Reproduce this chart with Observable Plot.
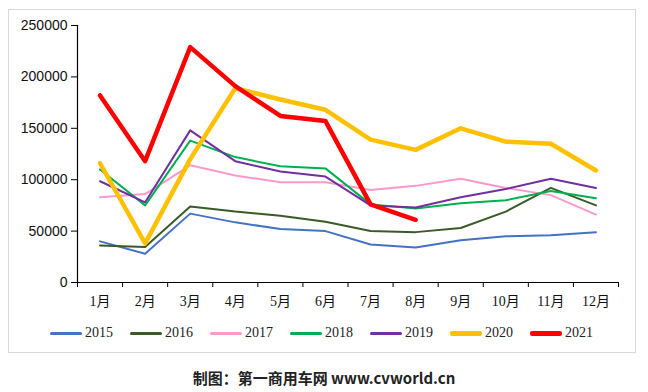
<!DOCTYPE html>
<html><head><meta charset="utf-8">
<script src="https://cdn.jsdelivr.net/npm/d3@7"></script>
<script src="https://cdn.jsdelivr.net/npm/@observablehq/plot@0.6"></script>
<style>
html,body{margin:0;padding:0;background:#fff;}
#wrap{position:relative;width:648px;height:392px;overflow:hidden;}
#frame{position:absolute;left:8px;top:9px;width:628px;height:344px;border:1px solid #d9d9d9;box-sizing:border-box;}
#chart{position:absolute;left:0;top:0;}
#legend{position:absolute;left:0;top:323px;width:648px;height:20px;}
.item{position:absolute;top:0;display:flex;align-items:center;height:20px;font-family:"Liberation Serif","Noto Sans CJK SC",serif;font-size:14px;color:#222;}
.sw{display:inline-block;width:32px;margin-right:3px;border-radius:2px;}
#caption{position:absolute;left:0;top:367px;width:648px;text-align:center;font-family:"Noto Sans CJK SC","Liberation Sans",sans-serif;font-weight:bold;font-size:15px;color:#222;}
</style></head>
<body><div id="wrap"><div id="frame"></div><div id="chart"></div><div id="legend"></div><div id="caption">制图：第一商用车网 www.cvworld.cn</div></div>
<script>
const months = ["1月","2月","3月","4月","5月","6月","7月","8月","9月","10月","11月","12月"];
const years = ["2015","2016","2017","2018","2019","2020","2021"];
const colors = ["#4472C4","#3A5A27","#FF99CC","#00B050","#7030A0","#FFC000","#FF0000"];
const widths = [2,2,2,2,2,4.5,4.5];
const yTicks = [0,50000,100000,150000,200000,250000];
const s2015 = [40000,28000,67000,58500,52000,50000,37000,34000,41000,45000,46000,49000];
const s2016 = [36000,34500,74000,69000,65000,59000,50000,49000,53000,69000,92000,75000];
const s2017 = [83000,86000,114000,104000,97500,97500,90000,94000,101000,92000,85000,66000];
const s2018 = [110000,75000,138000,122000,113000,111000,76000,72000,77000,80000,89000,82000];
const s2019 = [98500,78000,148000,118000,108000,103000,75000,73000,83000,91000,101000,92000];
const s2020 = [116000,38000,120000,189000,178000,168000,139000,129000,150000,137000,135000,109000];
const s2021 = [182000,118000,229000,191000,162000,157000,76000,61000];
const series = [s2015,s2016,s2017,s2018,s2019,s2020,s2021];

const lineMarks = series.map((s,k)=>Plot.line(s.map((v,i)=>({i, v})), {
  x: d=>d.i+0.5, y: "v", stroke: colors[k], strokeWidth: widths[k],
  strokeLinejoin: "round", strokeLinecap: "round"
}));

const chart = Plot.plot({
  width: 648, height: 312,
  marginLeft: 77, marginRight: 30, marginTop: 25, marginBottom: 30,
  style: {fontFamily: "'Liberation Sans', Arial, sans-serif", background: "transparent", color: "#000"},
  x: {type: "linear", domain: [0, months.length], axis: null},
  y: {domain: [0, 250000], axis: null},
  marks: [
    ...lineMarks,
    Plot.axisY({ticks: yTicks, tickFormat: d=>String(d), tickSize: 6, tickPadding: 4, fontSize: 14, stroke: "#000", fill: "#111", label: null}),
    Plot.axisX({ticks: d3.range(months.length+1), tickFormat: ()=>"", tickSize: 5, stroke: "#000", label: null}),
    Plot.ruleX([0], {stroke: "#000", strokeWidth: 1.2}),
    Plot.ruleY([0], {stroke: "#000", strokeWidth: 1.2}),
    Plot.text(months, {x: (d,i)=>i+0.5, y: 0, text: d=>d, dy: 19, fontSize: 14, fill: "#111",
      fontFamily: "'Liberation Serif','Noto Sans CJK SC',serif"})
  ]
});
document.getElementById("chart").appendChild(chart);

const leg = document.getElementById("legend");
years.forEach((y,k)=>{
  const it = document.createElement("div");
  it.className = "item";
  it.style.left = (50 + k*80) + "px";
  const sw = document.createElement("span");
  sw.className = "sw";
  sw.style.height = (k>=5 ? 5 : 3) + "px";
  sw.style.background = colors[k];
  it.appendChild(sw);
  it.appendChild(document.createTextNode(y));
  leg.appendChild(it);
});
</script></body></html>
